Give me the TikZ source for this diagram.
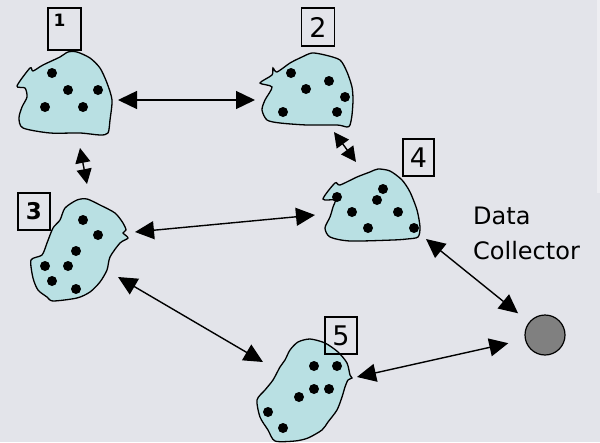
\documentclass[tikz,border=0pt]{standalone}
\usepackage{fontspec}
\setmainfont{DejaVu Sans}
\usepackage{tikz}
\usetikzlibrary{arrows.meta}
\definecolor{bgcol}{HTML}{E3E4EA}
\definecolor{stripcol}{HTML}{EEEEF2}
\definecolor{blobcol}{HTML}{B9E0E3}

\begin{document}
\begin{tikzpicture}[x=1pt,y=-1pt,
        blob/.style={fill=blobcol, draw=black, line width=1.3pt},
        numbox/.style={draw=black, line width=1.2pt, minimum width=32pt, minimum height=37pt, inner sep=0pt, font=\fontsize{27}{27}\selectfont},
        link/.style={{Triangle[length=19pt,width=18pt]}-{Triangle[length=19pt,width=18pt]}, line width=1.4pt},
        short link/.style={{Triangle[length=15pt,width=15pt]}-{Triangle[length=15pt,width=15pt]}, line width=1.4pt}]
        \useasboundingbox (0,0) rectangle (600,442);
        \fill[bgcol] (0,0) rectangle (600,442);
        \fill[stripcol] (597,0) rectangle (600,193);
        \draw[blob] plot[smooth cycle, tension=0.45] coordinates {(68,52) (77,52) (90,58) (100,68) (107,83) (112,100) (110,120) (108,133) (100,135) (80,133) (50,133) (23,128) (19,118) (22,107) (27,97) (25,88) (17,86) (30,68) (33,71) (43,65) (60,57)};
        \draw[blob] plot[smooth cycle, tension=0.45] coordinates {(312,53) (325,55) (340,60) (347,72) (352,87) (353,100) (352,115) (350,125) (347,127) (337,125) (307,125) (280,123) (267,120) (262,110) (265,100) (272,87) (260,83) (272,75) (273,68) (277,72) (290,63) (302,57)};
        \draw[blob] plot[smooth cycle, tension=0.45] coordinates {(77,200) (87,199) (100,205) (115,213) (123,223) (126,230) (123,233) (128,238) (120,243) (110,257) (107,270) (100,282) (90,292) (77,298) (53,301) (47,297) (38,290) (33,278) (31,260) (42,255) (47,243) (53,228) (60,220) (65,208)};
        \draw[blob] plot[smooth cycle, tension=0.45] coordinates {(378,169) (390,171) (402,180) (410,192) (417,210) (420,227) (418,237) (407,239) (393,240) (350,241) (330,237) (325,228) (330,217) (333,207) (335,200) (323,199) (335,183) (340,185) (357,177) (370,172)};
        \draw[blob] plot[smooth cycle, tension=0.45] coordinates {(298,342) (310,339) (325,343) (338,352) (347,363) (350,375) (352,378) (348,380) (345,387) (342,397) (337,410) (328,422) (322,430) (308,438) (295,441) (275,441) (268,430) (260,417) (257,400) (265,390) (273,380) (280,367) (285,360) (290,350)};
        \foreach \p in {(52,73),(68,90),(98,90),(45,107),(83,107),
                (291,73),(329,81),(306,89),(345,97),(283,112),(337,112),
                (83,220),(98,235),(76,251),(45,266),(68,266),(52,281),(76,289),
                (383,189),(377,200),(337,197),(352,212),(398,212),(368,228),(414,228),
                (314,366),(337,366),(314,389),(329,389),(299,397),(268,412),(283,428)}
            \fill \p circle (5);
        \node[numbox, minimum width=33pt, minimum height=42pt,
            label={[anchor=north, xshift=-5pt, yshift=-3pt, font=\bfseries\fontsize{17}{17}\selectfont]north:1}] (n1) at (64.5,29) {};
        \node[numbox, minimum width=33pt, minimum height=38pt] (n2) at (318,27) {2};
        \node[numbox, font=\bfseries\fontsize{23}{23}\selectfont] (n3) at (34,211.5) {3};
        \node[numbox, minimum width=31pt] (n4) at (418.5,157.5) {4};
        \node[numbox] (n5) at (341,335.5) {5};
        \node[circle, draw=black, line width=1.2pt, fill=gray, minimum size=40pt, inner sep=0pt] (dc) at (545,335) {};
        \node[anchor=north west, align=left, inner sep=0pt, font=\fontsize{24}{35}\selectfont] (lbl) at (473,207) {Data\\Collector};
        \coordinate (e12) at (118,100);
        \coordinate (e21) at (255,100);
        \coordinate (e13) at (80,148);
        \coordinate (e31) at (87,184);
        \coordinate (e24) at (334,132);
        \coordinate (e42) at (356,162);
        \coordinate (e34) at (135,232);
        \coordinate (e43) at (315,215);
        \coordinate (e35) at (118,277);
        \coordinate (e53) at (263,362);
        \coordinate (e4d) at (426,239);
        \coordinate (e5d) at (357,377);
        \draw[link] (e12) -- (e21);
        \draw[short link] (e13) -- (e31);
        \draw[short link] (e24) -- (e42);
        \draw[link] (e34) -- (e43);
        \draw[link] (e35) -- (e53);
        \draw[link, shorten >=14pt] (e4d) -- (dc);
        \draw[link, shorten >=17pt] (e5d) -- (dc);
    \end{tikzpicture}
\end{document}
